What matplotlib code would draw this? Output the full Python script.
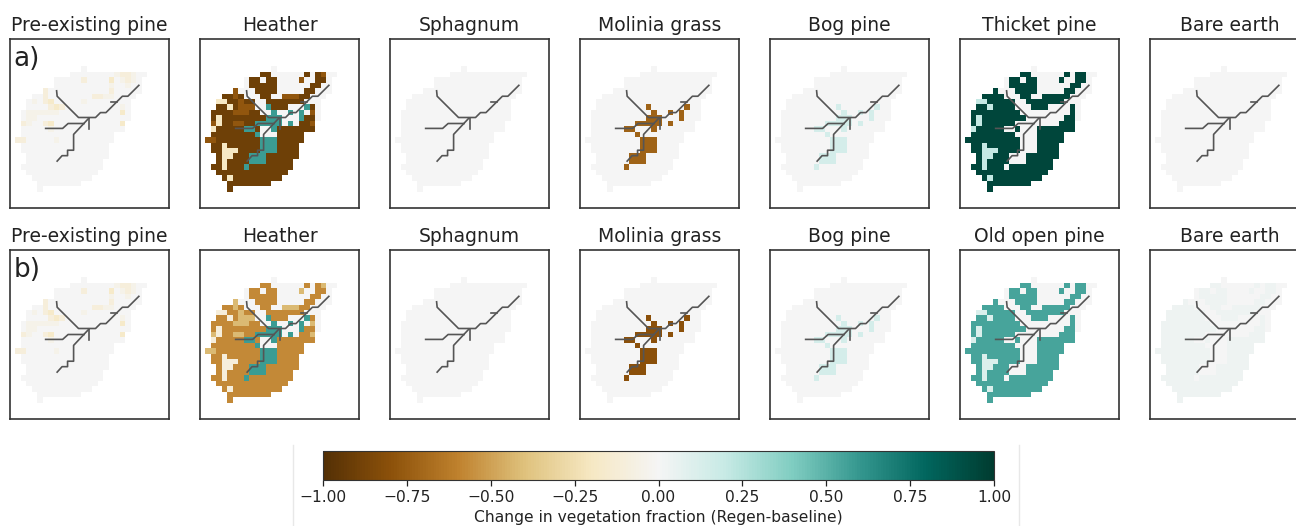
import numpy as np
import matplotlib
matplotlib.use("Agg")
import matplotlib.pyplot as plt
from matplotlib.colors import Normalize
from matplotlib.cm import ScalarMappable
from matplotlib.lines import Line2D

W, H = 1296, 526

titles_a = ["Pre-existing pine", "Heather", "Sphagnum", "Molinia grass", "Bog pine", "Thicket pine", "Bare earth"]
titles_b = ["Pre-existing pine", "Heather", "Sphagnum", "Molinia grass", "Bog pine", "Old open pine", "Bare earth"]
ticks = [-1, -0.75, -0.5, -0.25, 0, 0.25, 0.5, 0.75, 1]

# first and last column of the catchment on each row
mask_start = [12, 10, 7, 7, 5, 3, 2, 2, 1, 1, 1, 1, 1, 0, 1, 1, 2, 2, 1, 2, 3, 4, 4]
mask_stop = [12, 23, 22, 22, 22, 21, 20, 20, 20, 20, 19, 19, 17, 17, 16, 16, 16, 15, 15, 14, 13, 11, 4]

# planted cells, row -> columns
planted_full = {
    1: [10, 11, 18, 20, 21],
    2: [8, 9, 11, 12, 17, 20, 21],
    3: [8, 9, 10, 11, 12, 19, 20],
    4: [5, 9, 10, 11, 12, 18, 19],
    5: [3, 4, 5, 6, 10, 11, 14, 15, 16, 17, 18],
    6: [4, 5, 6, 7, 8, 11, 12, 13, 14, 15, 16, 17],
    7: [2, 3, 5, 6, 7, 8, 12, 13, 14, 19],
    8: [1, 2, 3, 4, 5, 6, 7, 8, 9, 19],
    9: [1, 3, 4, 5, 6, 7, 8, 9, 10, 18, 19],
    10: [1, 3, 4, 5, 6, 7, 8, 17, 18, 19],
    11: [2, 3, 4, 5, 6, 9, 13, 14, 15, 16, 17, 18, 19],
    12: [1, 2, 3, 4, 5, 6, 7, 8, 13, 14, 15, 16, 17],
    13: [0, 1, 2, 3, 4, 5, 6, 7, 8, 9, 13, 14, 15, 16, 17],
    14: [1, 2, 4, 5, 6, 7, 8, 9, 13, 14, 15, 16],
    15: [1, 2, 6, 7, 8, 9, 13, 14, 15, 16],
    16: [2, 5, 6, 7, 11, 12, 13, 14, 15, 16],
    17: [2, 4, 5, 6, 7, 11, 12, 13, 14, 15],
    18: [1, 2, 4, 5, 6, 8, 9, 10, 11, 12, 13, 14, 15],
    19: [2, 3, 4, 5, 6, 7, 8, 9, 10, 11, 12, 13, 14],
    20: [3, 5, 6, 7, 8, 9, 10, 11, 12, 13],
    21: [4, 5, 6, 7, 8, 9, 10, 11],
    22: [4],
}
planted_part = {
    6: [2, 3], 7: [4], 9: [2], 10: [2], 11: [1], 14: [3], 15: [3, 4, 5],
    16: [3, 4], 17: [3], 18: [3], 20: [4],
}
molinia_cells = {
    7: [11, 18], 8: [12, 15, 17], 9: [11, 12, 13, 17], 10: [9, 10, 11, 12, 13, 15],
    11: [7, 8, 12], 12: [9], 13: [10, 11, 12], 14: [10, 11, 12], 15: [10, 11, 12],
    16: [8, 9, 10], 17: [8, 9, 10], 18: [7],
}
heather_mid = {
    1: [21], 2: [17], 4: [5], 5: [5, 14, 15, 16], 6: [6], 7: [6, 7, 8],
    8: [5, 6, 7, 19], 10: [1, 5, 6, 19], 13: [0, 1],
}
pine_strong = {2: [17], 6: [6], 7: [7], 8: [19], 10: [6, 19]}
pine_mid = {
    1: [19, 20], 2: [12, 20], 4: [5, 17], 5: [5, 14, 15], 6: [5], 7: [6, 8],
    10: [1, 5], 13: [0, 1],
}
pine_faint = {
    1: [18, 21], 2: [19, 21], 3: [17, 20], 5: [16, 17], 6: [3, 12], 7: [19],
    8: [2, 3, 4, 5, 6, 7], 9: [2, 3], 10: [2], 11: [6], 13: [7],
}

# river network, (column, row) in cell units
river_x = [
    [22.5, 20.5, 19.5, 16.5, 15.5, 14.6, 11.5, 7.6, 7.5],
    [13.4, 10.6, 10.6, 9.5, 9.5, 8.5, 7.6],
    [5.5, 8.6, 9.6, 12.5],
    [13.5, 13.5],
    [17.5, 18.5],
]
river_y = [
    [3.5, 5.5, 5.5, 8.5, 8.5, 9.4, 9.4, 5.5, 4.5],
    [9.5, 12.5, 15.4, 15.4, 16.4, 16.4, 17.4],
    [11.4, 11.4, 10.5, 10.5],
    [9.5, 11.5],
    [6.5, 6.5],
]


def empty_grid():
    g = np.full((23, 24), np.nan)
    for r, (a, b) in enumerate(zip(mask_start, mask_stop)):
        g[r, a:b + 1] = 0.0
    return g


def fill(g, cells, val):
    for r, cols in cells.items():
        for c in cols:
            g[r, c] = val
    return g


def layers(*pairs):
    g = empty_grid()
    for cells, val in pairs:
        fill(g, cells, val)
    return g


grids_a = [
    layers((pine_faint, -0.05), (pine_mid, -0.1), (pine_strong, -0.17)),
    layers((planted_full, -0.9), (planted_part, -0.2), (heather_mid, -0.78), (molinia_cells, 0.58)),
    layers(),
    layers((molinia_cells, -0.72)),
    layers((molinia_cells, 0.14)),
    layers((planted_full, 0.95), (planted_part, 0.2)),
    layers(),
]
grids_b = [
    layers((pine_faint, -0.05), (pine_mid, -0.1), (pine_strong, -0.17)),
    layers((planted_full, -0.57), (planted_part, -0.1), (heather_mid, -0.42), (molinia_cells, 0.58)),
    layers(),
    layers((molinia_cells, -0.8)),
    layers((molinia_cells, 0.14)),
    layers((planted_full, 0.55), (planted_part, 0.12)),
    layers((planted_full, 0.03), (planted_part, 0.03)),
]

lefts = [10, 200, 390, 580, 770, 960, 1150]
norm = Normalize(-1, 1)
cmap = plt.get_cmap("BrBG", 255)
fig = plt.figure(figsize=(W / 100, H / 100), dpi=100)


def px_axes(x, y, w, h):
    return fig.add_axes([x / W, 1 - (y + h) / H, w / W, h / H])


def panel(x, y, h, grid, title):
    ax = px_axes(x, y, 159, h)
    ax.pcolormesh(np.arange(25), np.arange(24), grid, cmap=cmap, norm=norm)
    for rx, ry in zip(river_x, river_y):
        ax.plot(rx, ry, color="#555555", lw=1.2)
    ax.set_xlim(-1, 28)
    ax.set_ylim(26, -5)
    ax.set_xticks([])
    ax.set_yticks([])
    for s in ax.spines.values():
        s.set_color("#333333")
        s.set_linewidth(1.2)
    ax.set_title(title, fontsize=13.5, color="#222222", pad=6)
    return ax


for i in range(7):
    ax_a = panel(lefts[i], 39, 169, grids_a[i], titles_a[i])
    ax_b = panel(lefts[i], 250, 169, grids_b[i], titles_b[i])
    if i == 0:
        ax_a.text(0.02, 0.96, "a)", transform=ax_a.transAxes, fontsize=19, va="top", color="#222222")
        ax_b.text(0.02, 0.96, "b)", transform=ax_b.transAxes, fontsize=19, va="top", color="#222222")

cax = px_axes(323, 451, 671, 29)
cb = fig.colorbar(ScalarMappable(norm=norm, cmap=cmap), cax=cax, orientation="horizontal")
cb.set_ticks(ticks)
cb.set_ticklabels(["\u22121.00", "\u22120.75", "\u22120.50", "\u22120.25", "0.00", "0.25", "0.50", "0.75", "1.00"])
cb.ax.tick_params(labelsize=11.2, length=4, width=0.9, colors="#222222", pad=3)
cb.outline.set_edgecolor("#333333")
cb.set_label("Change in vegetation fraction (Regen-baseline)", fontsize=11.2, color="#222222", labelpad=4)

for x in [293, 1019]:
    fig.add_artist(Line2D([x / W, x / W], [0, 1 - 445 / H], color="#e8e8e8", lw=1))

fig.savefig("out.png", dpi=100)
